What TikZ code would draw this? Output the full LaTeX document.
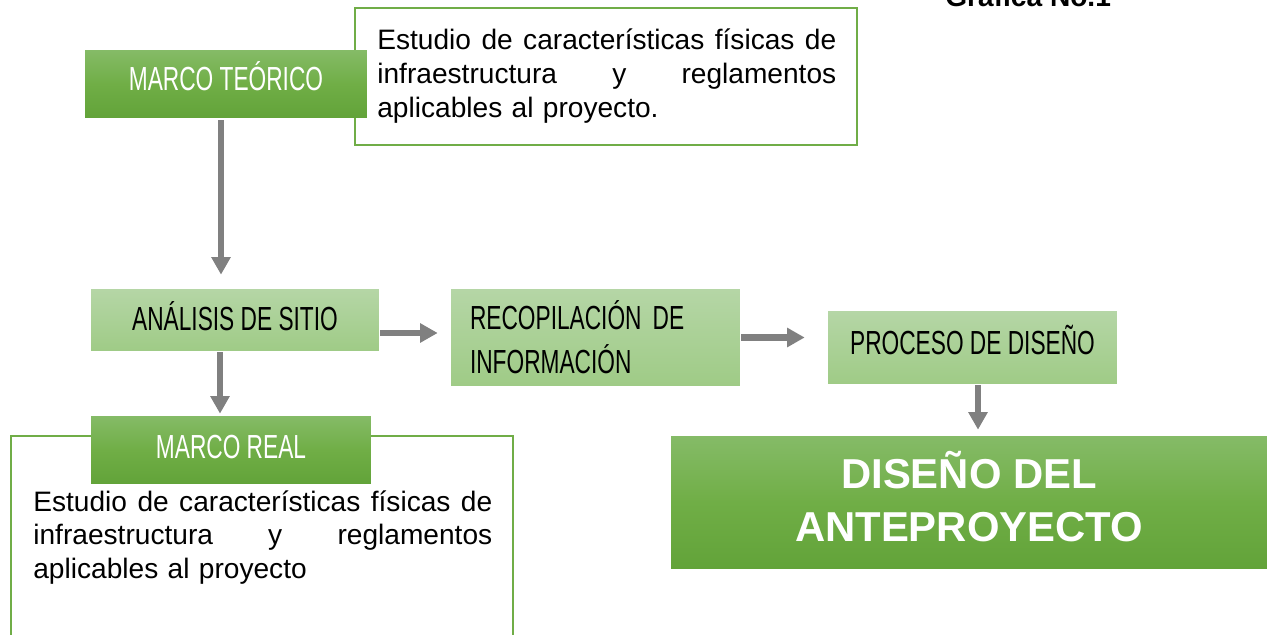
\documentclass[tikz,border=0pt]{standalone}
\usepackage{fontspec}
\setmainfont{Liberation Sans}
\newfontfamily\handfont[FakeStretch=0.68]{Liberation Sans}
\usetikzlibrary{arrows.meta,calc}
\definecolor{gline}{HTML}{70AD47}
\definecolor{dgtop}{HTML}{85BB67}
\definecolor{dgmid}{HTML}{70AE46}
\definecolor{dgbot}{HTML}{62A339}
\definecolor{lgtop}{HTML}{B5D6A6}
\definecolor{lgbot}{HTML}{9FCB86}
\definecolor{arrgray}{HTML}{808080}
\tikzset{
  whitebox/.style={draw=gline, line width=1.2pt, fill=white, inner sep=0pt},
  darkbox/.style={top color=dgtop, bottom color=dgbot, middle color=dgmid, draw=none, inner sep=0pt, text=white},
  lightbox/.style={top color=lgtop, bottom color=lgbot, draw=none, inner sep=0pt, text=black},
  hand/.style={font=\handfont\fontsize{19}{25}\selectfont},
  desc/.style={font=\fontsize{16}{19.3}\selectfont, text width=9.18cm, align=left, inner sep=0pt},
  arr/.style={draw=arrgray, line width=3.9pt, -{Triangle[length=10pt,width=10.5pt]}, arrgray}
}
\begin{document}
\begin{tikzpicture}[x=0.02cm,y=-0.02cm]
\useasboundingbox (0,0) rectangle (1267,635);
% title
\node[font=\bfseries\fontsize{16}{19}\selectfont, anchor=base west, inner sep=0pt] (graf) at (945,7) {Gráfica No.1};
% top white box
\node[whitebox, minimum width=10.04cm, minimum height=2.74cm] (tbox) at (606,76.5) {};
\node[desc, anchor=base west] (ttext) at (377,50) {\makebox[9.18cm][l]{Estudio\hfill de\hfill características\hfill físicas\hfill de}\\ \makebox[9.18cm][l]{infraestructura\hfill y\hfill reglamentos}\\ aplicables al proyecto.};
% marco teorico
\node[darkbox, hand, text depth=9pt, minimum width=5.64cm, minimum height=1.36cm] (mt) at (226,84) {MARCO TEÓRICO};
% analisis de sitio
\node[lightbox, hand, text depth=4pt, minimum width=5.76cm, minimum height=1.24cm] (as) at (235,320) {ANÁLISIS DE SITIO};
% recopilacion
\node[lightbox, hand, minimum width=5.78cm, minimum height=1.94cm, text width=5.02cm, inner xsep=0.38cm, align=left] (rec) at (595.5,337.5) {RECOPILACIÓN DE\\ INFORMACIÓN};
% proceso de diseno
\node[lightbox, hand, text depth=9pt, minimum width=5.78cm, minimum height=1.46cm] (pd) at (972.5,347.5) {PROCESO DE DISEÑO};
% diseno del anteproyecto
\node[darkbox, font=\bfseries\fontsize{23.8}{30.6}\selectfont, align=center, text depth=7pt, minimum width=11.92cm, minimum height=2.66cm] (dd) at (969,502.5) {DISEÑO DEL\\ ANTEPROYECTO};
% bottom white box
\node[whitebox, minimum width=10.04cm, minimum height=4.08cm] (bbox) at (262,538) {};
\node[desc, anchor=base west] (btext) at (33,511) {\makebox[9.18cm][l]{Estudio\hfill de\hfill características\hfill físicas\hfill de}\\ \makebox[9.18cm][l]{infraestructura\hfill y\hfill reglamentos}\\ aplicables al proyecto};
% marco real
\node[darkbox, hand, text depth=4pt, minimum width=5.6cm, minimum height=1.36cm] (mr) at (231,450) {MARCO REAL};
% arrows
\draw[arr, shorten <=0.04cm, shorten >=0.28cm] ([xshift=-0.1cm]mt.south) -- ([xshift=-0.1cm]mt.south |- as.north);
\draw[arr, shorten <=0.02cm, shorten >=0.26cm] ([yshift=-0.26cm]as.east) -- ([yshift=-0.26cm]as.east -| rec.west);
\draw[arr, shorten <=0.02cm, shorten >=0.46cm] (rec.east) -- (rec.east -| pd.west);
\draw[arr, shorten <=0.02cm, shorten >=0.12cm] ([xshift=0.11cm]pd.south) -- ([xshift=0.11cm]pd.south |- dd.north);
\draw[arr, shorten <=0.02cm, shorten >=0.04cm] ([xshift=-0.3cm]as.south) -- ([xshift=-0.3cm]as.south |- mr.north);
\end{tikzpicture}
\end{document}
